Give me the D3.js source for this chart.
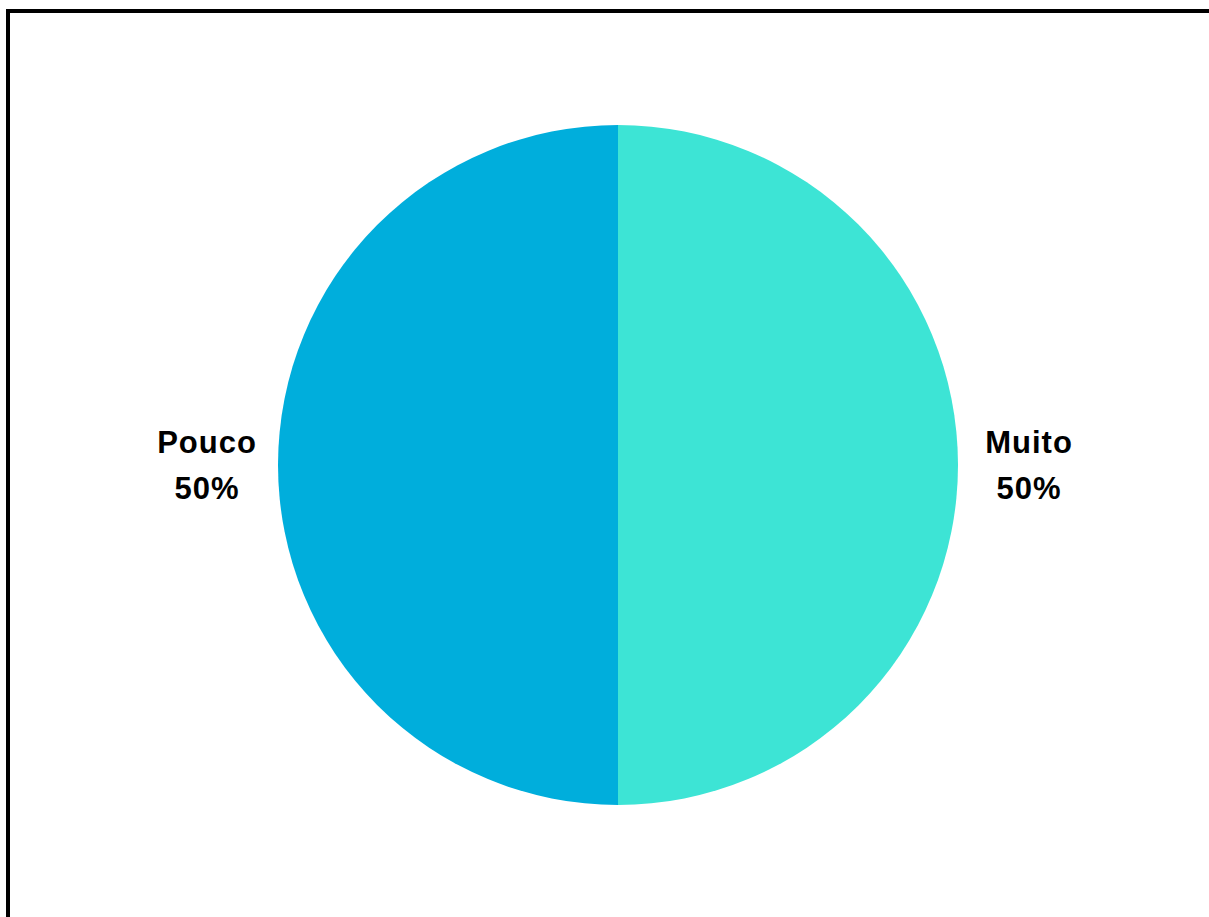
<!DOCTYPE html>
<html lang="pt">
<head>
<meta charset="utf-8">
<title>Pie</title>
<script src="https://cdnjs.cloudflare.com/ajax/libs/d3/7.8.5/d3.min.js"></script>
<style>
body { margin: 0; background: #fff; }
.label {
   font-family: "Liberation Sans", Arial, sans-serif;
   font-weight: bold;
   font-size: 31px;
   letter-spacing: 1px;
   fill: #000;
}
</style>
</head>
<body>
<div id="chart"></div>
<script>

const w = 1209;
const h = 917;

const categories = ["Muito", "Pouco"];
const values = [50, 50];
const colors = ["#3de4d5", "#00aedc"];

const cx = 618, cy = 465, radius = 340, labelRadius = 411;

const svg = d3.select("#chart")
   .append("svg")
   .attr("width", w)
   .attr("height", h);

// frame (only top and left edges are visible)
svg.append("rect")
   .attr("x", 8)
   .attr("y", 11)
   .attr("width", w + 20)
   .attr("height", h + 20)
   .attr("fill", "none")
   .attr("stroke", "#000")
   .attr("stroke-width", 4);

const data = categories.map((c, i) => ({ name: c, value: values[i], color: colors[i] }));

const pie = d3.pie()
   .sort(null)
   .value(d => d.value);

const arc = d3.arc()
   .innerRadius(0)
   .outerRadius(radius);

const labelArc = d3.arc()
   .innerRadius(labelRadius)
   .outerRadius(labelRadius);

const g = svg.append("g")
   .attr("transform", "translate(" + cx + "," + cy + ")");

const arcs = pie(data);

g.selectAll(".slice")
   .data(arcs)
   .enter()
   .append("path")
   .attr("class", "slice")
   .attr("d", arc)
   .attr("fill", d => d.data.color);

const total = d3.sum(values);

const labels = g.selectAll(".label")
   .data(arcs)
   .enter()
   .append("text")
   .attr("class", "label")
   .attr("text-anchor", "middle")
   .attr("transform", d => "translate(" + labelArc.centroid(d) + ")");

labels.append("tspan")
   .attr("x", 0)
   .attr("y", -12)
   .text(d => d.data.name);

labels.append("tspan")
   .attr("x", 0)
   .attr("y", 34)
   .text(d => Math.round(d.data.value / total * 100) + "%");

</script>
</body>
</html>
